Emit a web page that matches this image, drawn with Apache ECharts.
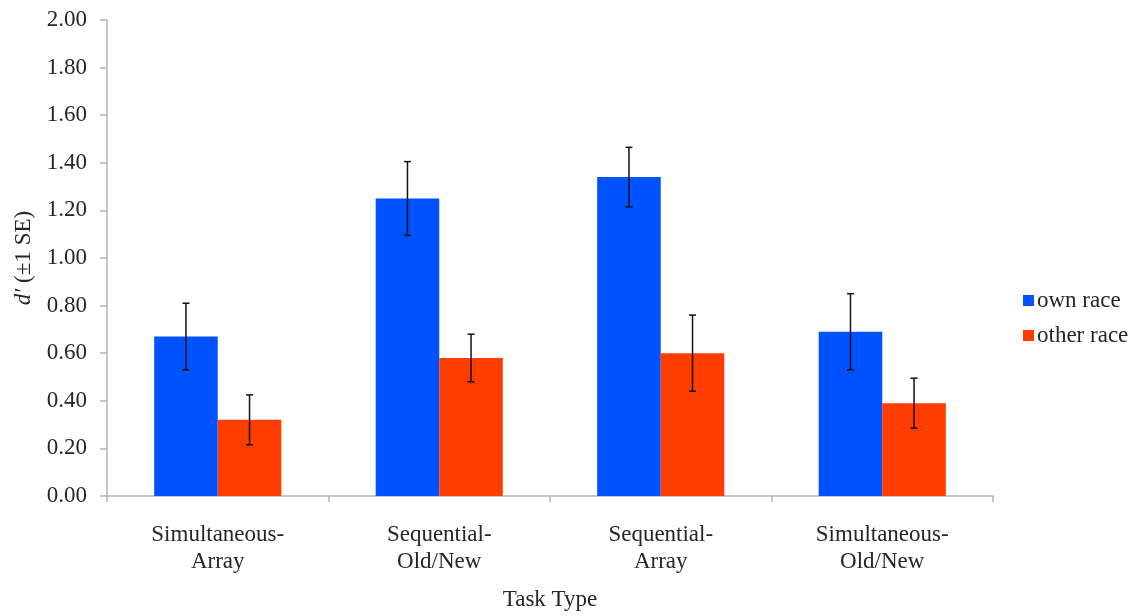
<!DOCTYPE html>
<html>
<head>
<meta charset="utf-8">
<script src="https://cdn.jsdelivr.net/npm/echarts@6/dist/echarts.min.js"></script>
<style>
  html, body { margin: 0; padding: 0; background: #fff; }
  #chart { width: 1133px; height: 616px; }
</style>
</head>
<body>
<div id="chart"></div>
<script>
// Recognition accuracy (d') by task type, own vs other race faces
var categories = ['Simultaneous-\nArray', 'Sequential-\nOld/New', 'Sequential-\nArray', 'Simultaneous-\nOld/New'];
var seriesNames = ['own race', 'other race'];
var ownRace = [0.67, 1.25, 1.34, 0.69];
var otherRace = [0.32, 0.58, 0.60, 0.39];
var ownSE = [0.14, 0.155, 0.125, 0.16];
var otherSE = [0.105, 0.10, 0.16, 0.105];
var yTicks = [0, 0.2, 0.4, 0.6, 0.8, 1.0, 1.2, 1.4, 1.6, 1.8, 2.0];

var FONT = 'Liberation Serif';
var FS = 23;
var TEXT = '#262626';
var AXIS = '#b4b4b4';
var BAR_WIDTH = 0.287; // fraction of the category band

function errorBarSeries(values, errors, sign) {
  var data = values.map(function (v, i) { return [i, v - errors[i], v + errors[i]]; });
  return {
    type: 'custom',
    silent: true,
    z: 10,
    data: data,
    encode: { x: 0, y: [1, 2] },
    renderItem: function (params, api) {
      var idx = api.value(0);
      var band = api.size([1, 0])[0];
      var off = sign * band * BAR_WIDTH / 2;
      var lo = api.coord([idx, api.value(1)]);
      var hi = api.coord([idx, api.value(2)]);
      var x = lo[0] + off;
      var cap = 3.5;
      var style = { stroke: '#111', lineWidth: 1.5 };
      return {
        type: 'group',
        children: [
          { type: 'line', shape: { x1: x, y1: lo[1], x2: x, y2: hi[1] }, style: style },
          { type: 'line', shape: { x1: x - cap, y1: lo[1], x2: x + cap, y2: lo[1] }, style: style },
          { type: 'line', shape: { x1: x - cap, y1: hi[1], x2: x + cap, y2: hi[1] }, style: style }
        ]
      };
    }
  };
}

var chart = echarts.init(document.getElementById('chart'), null, { renderer: 'canvas' });
chart.setOption({
  animation: false,
  backgroundColor: '#fff',
  textStyle: { fontFamily: FONT, color: TEXT },
  grid: { left: 107, right: 140, top: 20, bottom: 119, containLabel: false },
  legend: {
    orient: 'vertical',
    left: 1018,
    top: 284,
    itemWidth: 11,
    itemHeight: 11,
    itemGap: 12,
    icon: 'rect',
    data: seriesNames,
    textStyle: { fontFamily: FONT, fontSize: FS, color: TEXT, padding: [0, 0, 0, -2] }
  },
  xAxis: {
    type: 'category',
    data: categories,
    name: 'Task Type',
    nameLocation: 'middle',
    nameGap: 92,
    nameTextStyle: { fontFamily: FONT, fontSize: FS, color: TEXT },
    axisLine: { lineStyle: { color: AXIS, width: 1.5 } },
    axisTick: { show: true, length: 6, lineStyle: { color: AXIS, width: 1.5 } },
    axisLabel: { fontFamily: FONT, fontSize: FS, color: TEXT, margin: 25, lineHeight: 27, interval: 0 }
  },
  yAxis: {
    type: 'value',
    min: 0,
    max: 2,
    interval: 0.2,
    name: '{i|d′} (±1 SE)',
    nameLocation: 'middle',
    nameGap: 70,
    nameTextStyle: {
      fontFamily: FONT, fontSize: FS, color: TEXT,
      rich: { i: { fontFamily: FONT, fontSize: FS, fontStyle: 'italic', color: TEXT } }
    },
    axisLine: { show: true, lineStyle: { color: AXIS, width: 1.5 } },
    axisTick: { show: true, length: 7, lineStyle: { color: AXIS, width: 1.5 } },
    splitLine: { show: false },
    axisLabel: {
      fontFamily: FONT, fontSize: FS, color: TEXT, margin: 20,
      formatter: function (v) { return v.toFixed(2); },
      customValues: yTicks
    }
  },
  series: [
    {
      name: seriesNames[0],
      type: 'bar',
      data: ownRace,
      barWidth: (BAR_WIDTH * 100) + '%',
      barGap: '0%',
      itemStyle: { color: '#0052FF' }
    },
    {
      name: seriesNames[1],
      type: 'bar',
      data: otherRace,
      barWidth: (BAR_WIDTH * 100) + '%',
      barGap: '0%',
      itemStyle: { color: '#FF3D00' }
    },
    errorBarSeries(ownRace, ownSE, -1),
    errorBarSeries(otherRace, otherSE, 1)
  ]
});
</script>
</body>
</html>
